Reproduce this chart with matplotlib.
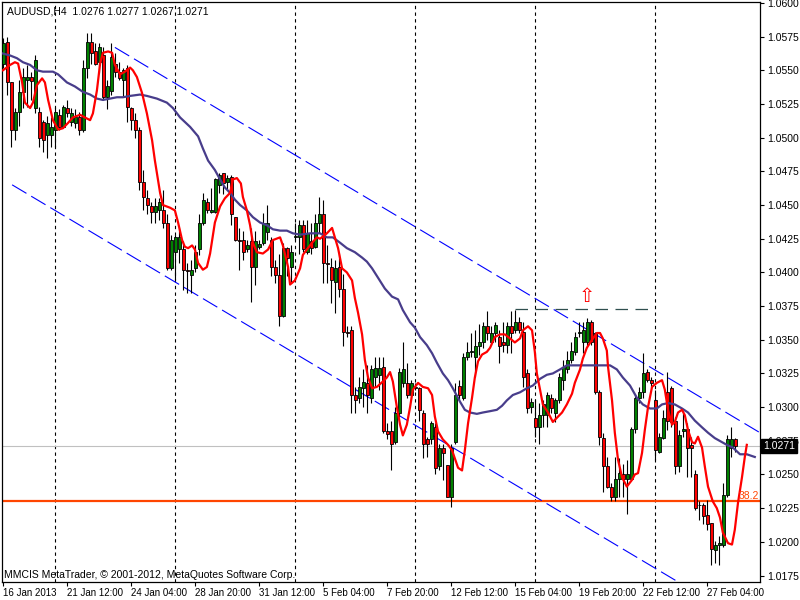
import numpy as np
import matplotlib
matplotlib.use("Agg")
import matplotlib.pyplot as plt
import matplotlib.transforms as mtransforms

plt.rcParams['font.family'] = ['Liberation Sans', 'DejaVu Sans']

# AUDUSD H4 candles, one row per bar: open, high, low, close
candles = [
    (1.0555, 1.0574, 1.0552, 1.0570), (1.0571, 1.0575, 1.0532, 1.0541), (1.0541, 1.0541, 1.0493, 1.0506),
    (1.0506, 1.0522, 1.0498, 1.0519), (1.0519, 1.0543, 1.0509, 1.0534), (1.0534, 1.0552, 1.0522, 1.0545),
    (1.0543, 1.0554, 1.0523, 1.0545), (1.0545, 1.0549, 1.0528, 1.0542), (1.0522, 1.0561, 1.0518, 1.0558),
    (1.0519, 1.0523, 1.0493, 1.0500), (1.0512, 1.0513, 1.0489, 1.0498), (1.0502, 1.0516, 1.0485, 1.0511),
    (1.0502, 1.0515, 1.0493, 1.0508), (1.0506, 1.0523, 1.0493, 1.0519), (1.0517, 1.0521, 1.0506, 1.0508),
    (1.0508, 1.0524, 1.0507, 1.0523), (1.0522, 1.0528, 1.0515, 1.0518), (1.0512, 1.0522, 1.0509, 1.0518),
    (1.0511, 1.0521, 1.0507, 1.0515), (1.0515, 1.0519, 1.0502, 1.0506), (1.0506, 1.0558, 1.0504, 1.0552),
    (1.0552, 1.0578, 1.0544, 1.0571), (1.0571, 1.0578, 1.0555, 1.0563), (1.0564, 1.0570, 1.0554, 1.0555),
    (1.0556, 1.0570, 1.0548, 1.0567), (1.0561, 1.0567, 1.0528, 1.0530), (1.0530, 1.0543, 1.0521, 1.0538),
    (1.0535, 1.0570, 1.0532, 1.0560), (1.0555, 1.0563, 1.0545, 1.0549), (1.0549, 1.0556, 1.0543, 1.0544),
    (1.0543, 1.0552, 1.0530, 1.0550), (1.0552, 1.0554, 1.0512, 1.0523), (1.0522, 1.0523, 1.0506, 1.0513),
    (1.0513, 1.0518, 1.0500, 1.0506), (1.0506, 1.0508, 1.0461, 1.0467), (1.0467, 1.0476, 1.0446, 1.0456),
    (1.0455, 1.0461, 1.0443, 1.0450), (1.0449, 1.0452, 1.0437, 1.0445), (1.0445, 1.0455, 1.0437, 1.0449),
    (1.0446, 1.0455, 1.0439, 1.0452), (1.0446, 1.0461, 1.0433, 1.0437), (1.0437, 1.0443, 1.0402, 1.0403),
    (1.0403, 1.0428, 1.0402, 1.0424), (1.0415, 1.0428, 1.0394, 1.0426), (1.0417, 1.0433, 1.0407, 1.0426),
    (1.0417, 1.0423, 1.0387, 1.0402), (1.0402, 1.0407, 1.0385, 1.0401), (1.0398, 1.0409, 1.0385, 1.0402),
    (1.0403, 1.0420, 1.0400, 1.0415), (1.0417, 1.0443, 1.0413, 1.0437), (1.0437, 1.0459, 1.0435, 1.0454),
    (1.0452, 1.0455, 1.0444, 1.0446), (1.0445, 1.0463, 1.0444, 1.0446), (1.0445, 1.0470, 1.0444, 1.0469),
    (1.0465, 1.0474, 1.0459, 1.0472), (1.0474, 1.0474, 1.0458, 1.0466), (1.0467, 1.0472, 1.0461, 1.0470),
    (1.0471, 1.0472, 1.0435, 1.0443), (1.0441, 1.0441, 1.0423, 1.0424), (1.0424, 1.0433, 1.0402, 1.0423),
    (1.0424, 1.0431, 1.0409, 1.0415), (1.0417, 1.0424, 1.0415, 1.0420), (1.0423, 1.0433, 1.0378, 1.0404),
    (1.0404, 1.0431, 1.0391, 1.0423), (1.0419, 1.0424, 1.0417, 1.0421), (1.0422, 1.0444, 1.0420, 1.0437),
    (1.0430, 1.0450, 1.0424, 1.0437), (1.0424, 1.0426, 1.0397, 1.0404), (1.0404, 1.0409, 1.0392, 1.0398),
    (1.0398, 1.0414, 1.0360, 1.0368), (1.0368, 1.0422, 1.0367, 1.0418), (1.0418, 1.0419, 1.0397, 1.0411),
    (1.0404, 1.0420, 1.0393, 1.0415), (1.0426, 1.0437, 1.0424, 1.0427), (1.0426, 1.0439, 1.0414, 1.0435),
    (1.0435, 1.0439, 1.0415, 1.0417), (1.0415, 1.0439, 1.0414, 1.0429), (1.0423, 1.0437, 1.0414, 1.0418),
    (1.0419, 1.0443, 1.0418, 1.0437), (1.0437, 1.0456, 1.0429, 1.0443), (1.0443, 1.0454, 1.0392, 1.0407),
    (1.0407, 1.0420, 1.0392, 1.0406), (1.0404, 1.0411, 1.0377, 1.0394), (1.0393, 1.0409, 1.0370, 1.0403),
    (1.0404, 1.0414, 1.0382, 1.0388), (1.0388, 1.0399, 1.0345, 1.0356), (1.0356, 1.0360, 1.0352, 1.0355),
    (1.0357, 1.0360, 1.0296, 1.0309), (1.0309, 1.0315, 1.0296, 1.0305), (1.0307, 1.0322, 1.0303, 1.0315),
    (1.0314, 1.0328, 1.0300, 1.0319), (1.0318, 1.0331, 1.0296, 1.0309), (1.0307, 1.0331, 1.0303, 1.0328),
    (1.0322, 1.0337, 1.0315, 1.0329), (1.0324, 1.0337, 1.0313, 1.0329), (1.0330, 1.0337, 1.0281, 1.0282),
    (1.0282, 1.0288, 1.0276, 1.0280), (1.0282, 1.0290, 1.0253, 1.0273), (1.0274, 1.0300, 1.0273, 1.0296),
    (1.0296, 1.0329, 1.0293, 1.0326), (1.0318, 1.0348, 1.0315, 1.0328), (1.0318, 1.0333, 1.0307, 1.0309),
    (1.0309, 1.0320, 1.0307, 1.0318), (1.0315, 1.0318, 1.0313, 1.0314), (1.0314, 1.0315, 1.0290, 1.0298),
    (1.0296, 1.0298, 1.0262, 1.0273), (1.0276, 1.0278, 1.0263, 1.0273), (1.0276, 1.0290, 1.0273, 1.0288),
    (1.0285, 1.0288, 1.0250, 1.0255), (1.0256, 1.0273, 1.0253, 1.0270), (1.0270, 1.0273, 1.0246, 1.0266),
    (1.0257, 1.0257, 1.0233, 1.0233), (1.0233, 1.0273, 1.0226, 1.0270), (1.0274, 1.0318, 1.0273, 1.0309),
    (1.0316, 1.0320, 1.0305, 1.0309), (1.0307, 1.0340, 1.0305, 1.0337), (1.0337, 1.0348, 1.0335, 1.0341),
    (1.0341, 1.0355, 1.0337, 1.0342), (1.0337, 1.0357, 1.0322, 1.0345), (1.0345, 1.0362, 1.0339, 1.0348),
    (1.0348, 1.0363, 1.0344, 1.0360), (1.0360, 1.0371, 1.0350, 1.0355), (1.0348, 1.0360, 1.0346, 1.0355),
    (1.0355, 1.0363, 1.0348, 1.0361), (1.0352, 1.0357, 1.0333, 1.0345), (1.0348, 1.0363, 1.0341, 1.0346),
    (1.0346, 1.0363, 1.0340, 1.0360), (1.0360, 1.0371, 1.0340, 1.0355), (1.0357, 1.0372, 1.0355, 1.0363),
    (1.0363, 1.0367, 1.0355, 1.0357), (1.0356, 1.0363, 1.0315, 1.0322), (1.0325, 1.0328, 1.0296, 1.0299),
    (1.0300, 1.0307, 1.0296, 1.0304), (1.0292, 1.0305, 1.0278, 1.0285), (1.0285, 1.0303, 1.0273, 1.0294),
    (1.0294, 1.0305, 1.0285, 1.0302), (1.0294, 1.0311, 1.0285, 1.0309), (1.0307, 1.0310, 1.0296, 1.0299),
    (1.0296, 1.0307, 1.0289, 1.0305), (1.0305, 1.0325, 1.0303, 1.0322), (1.0320, 1.0335, 1.0313, 1.0330),
    (1.0328, 1.0342, 1.0325, 1.0335), (1.0335, 1.0348, 1.0333, 1.0342), (1.0341, 1.0356, 1.0339, 1.0352),
    (1.0355, 1.0363, 1.0352, 1.0356), (1.0348, 1.0363, 1.0340, 1.0357), (1.0348, 1.0366, 1.0345, 1.0363),
    (1.0363, 1.0365, 1.0346, 1.0348), (1.0355, 1.0356, 1.0310, 1.0311), (1.0311, 1.0313, 1.0272, 1.0278),
    (1.0277, 1.0281, 1.0237, 1.0256), (1.0256, 1.0263, 1.0240, 1.0241), (1.0241, 1.0244, 1.0230, 1.0233),
    (1.0233, 1.0263, 1.0230, 1.0247), (1.0247, 1.0262, 1.0233, 1.0251), (1.0250, 1.0258, 1.0233, 1.0247),
    (1.0247, 1.0261, 1.0221, 1.0250), (1.0247, 1.0285, 1.0246, 1.0284), (1.0284, 1.0310, 1.0281, 1.0307),
    (1.0307, 1.0315, 1.0303, 1.0311), (1.0311, 1.0340, 1.0307, 1.0325), (1.0326, 1.0328, 1.0319, 1.0320),
    (1.0320, 1.0322, 1.0315, 1.0318), (1.0305, 1.0313, 1.0261, 1.0268), (1.0267, 1.0281, 1.0266, 1.0278),
    (1.0277, 1.0298, 1.0276, 1.0292), (1.0311, 1.0326, 1.0283, 1.0290), (1.0314, 1.0316, 1.0285, 1.0289),
    (1.0290, 1.0293, 1.0250, 1.0256), (1.0256, 1.0283, 1.0252, 1.0279), (1.0282, 1.0296, 1.0278, 1.0284),
    (1.0284, 1.0288, 1.0248, 1.0270), (1.0272, 1.0278, 1.0248, 1.0270), (1.0250, 1.0253, 1.0224, 1.0225),
    (1.0227, 1.0230, 1.0216, 1.0227), (1.0227, 1.0229, 1.0213, 1.0219), (1.0220, 1.0231, 1.0209, 1.0213),
    (1.0214, 1.0214, 1.0183, 1.0195), (1.0194, 1.0201, 1.0184, 1.0198), (1.0198, 1.0204, 1.0183, 1.0199),
    (1.0198, 1.0244, 1.0196, 1.0235), (1.0235, 1.0279, 1.0233, 1.0276), (1.0270, 1.0285, 1.0263, 1.0276),
    (1.0276, 1.0277, 1.0267, 1.0271),
]

# fast moving average (red): bar position, price
red_bars = [-0.1, 1.7, 2.9, 3.7, 4.7, 5.4, 6.7, 7.4, 8.4, 9.7, 10.4, 11.2, 12.4, 13.7, 14.9, 16.2, 17.4, 19.2,
            20.4, 21.7, 22.4, 23.4, 24.2, 24.9, 26.2, 27.2, 27.9, 29.2, 30.4, 31.7, 32.4, 33.4, 34.7, 35.9, 37.2,
            37.9, 39.2, 39.9, 41.7, 42.9, 43.7, 44.7, 45.4, 46.2, 47.2, 47.9, 48.7, 49.9, 50.9, 51.7, 52.9, 54.2,
            55.4, 56.7, 57.4, 58.4, 59.4, 59.9, 60.9, 61.7, 62.4, 63.4, 64.9, 66.2, 67.4, 69.2, 69.9, 71.2, 71.7,
            72.9, 74.2, 74.9, 75.9, 77.2, 78.4, 79.2, 80.9, 82.2, 82.9, 83.7, 84.7, 85.9, 87.2, 87.9, 88.7, 89.7,
            90.4, 91.2, 92.2, 93.4, 94.9, 95.9, 96.7, 97.4, 98.4, 99.2, 99.9, 100.9, 101.7, 102.4, 103.7, 104.9,
            106.2, 107.2, 107.9, 108.7, 109.9, 111.2, 112.2, 112.9, 113.7, 114.7, 115.4, 116.2, 117.2, 117.9,
            118.7, 119.7, 120.9, 121.7, 122.9, 124.2, 125.4, 126.7, 127.9, 129.2, 129.9, 131.2, 132.2, 132.9,
            133.4, 134.2, 134.9, 136.2, 137.4, 138.4, 139.7, 140.9, 142.2, 142.9, 144.2, 144.9, 145.9, 147.2,
            148.4, 149.2, 149.9, 150.9, 151.2, 152.2, 152.9, 153.7, 154.7, 155.9, 157.2, 157.9, 158.7, 159.7,
            160.4, 161.2, 162.2, 163.4, 164.7, 165.4, 166.2, 167.2, 167.9, 168.7, 169.7, 170.4, 171.2, 172.2,
            172.9, 173.7, 174.7, 175.4, 176.2, 177.4, 178.4, 179.2, 179.9, 181.2, 182.2, 182.9, 183.7, 184.7,
            185.4, 185.9]
red_vals = [1.0550, 1.0554, 1.0556, 1.0555, 1.0541, 1.0526, 1.0522, 1.0526, 1.0539, 1.0544, 1.0541, 1.0528,
            1.0513, 1.0506, 1.0507, 1.0511, 1.0515, 1.0517, 1.0515, 1.0513, 1.0518, 1.0535, 1.0555, 1.0563,
            1.0564, 1.0563, 1.0554, 1.0547, 1.0549, 1.0552, 1.0550, 1.0545, 1.0533, 1.0518, 1.0498, 1.0483,
            1.0459, 1.0450, 1.0448, 1.0446, 1.0437, 1.0424, 1.0419, 1.0418, 1.0420, 1.0417, 1.0407, 1.0402,
            1.0404, 1.0414, 1.0437, 1.0449, 1.0455, 1.0459, 1.0469, 1.0470, 1.0466, 1.0456, 1.0446, 1.0435,
            1.0422, 1.0415, 1.0414, 1.0417, 1.0424, 1.0426, 1.0420, 1.0404, 1.0391, 1.0394, 1.0403, 1.0413,
            1.0417, 1.0422, 1.0426, 1.0425, 1.0429, 1.0433, 1.0426, 1.0418, 1.0403, 1.0400, 1.0394, 1.0381,
            1.0370, 1.0354, 1.0335, 1.0322, 1.0314, 1.0315, 1.0319, 1.0322, 1.0326, 1.0319, 1.0300, 1.0287,
            1.0279, 1.0287, 1.0300, 1.0313, 1.0318, 1.0315, 1.0314, 1.0309, 1.0293, 1.0282, 1.0276, 1.0272,
            1.0268, 1.0262, 1.0255, 1.0253, 1.0268, 1.0288, 1.0307, 1.0322, 1.0334, 1.0339, 1.0341, 1.0344,
            1.0352, 1.0354, 1.0354, 1.0351, 1.0348, 1.0351, 1.0357, 1.0360, 1.0357, 1.0341, 1.0325, 1.0313,
            1.0302, 1.0296, 1.0289, 1.0292, 1.0296, 1.0302, 1.0310, 1.0318, 1.0328, 1.0336, 1.0344, 1.0350,
            1.0355, 1.0355, 1.0351, 1.0342, 1.0330, 1.0305, 1.0281, 1.0261, 1.0248, 1.0241, 1.0246, 1.0250,
            1.0251, 1.0266, 1.0283, 1.0300, 1.0315, 1.0318, 1.0320, 1.0313, 1.0298, 1.0287, 1.0289, 1.0296,
            1.0298, 1.0294, 1.0283, 1.0274, 1.0273, 1.0278, 1.0270, 1.0256, 1.0241, 1.0230, 1.0225, 1.0218,
            1.0207, 1.0199, 1.0198, 1.0209, 1.0229, 1.0248, 1.0263, 1.0272]

# slow moving average (dark slate blue)
slow_bars = [-0.8, 1.7, 3.4, 4.9, 6.7, 8.4, 9.9, 12.4, 13.7, 15.9, 17.9, 19.9, 21.7, 23.4, 24.9, 26.7, 28.4,
             29.9, 31.7, 34.2, 35.9, 38.4, 40.9, 42.4, 44.2, 46.7, 48.7, 49.9, 51.2, 52.9, 54.2, 55.4, 56.7,
             57.9, 59.2, 60.9, 62.4, 64.2, 65.9, 67.4, 69.2, 70.9, 72.4, 74.2, 76.7, 79.2, 80.9, 82.4, 84.2,
             85.9, 87.9, 89.7, 90.9, 92.2, 93.7, 95.4, 97.2, 98.7, 99.9, 101.7, 102.9, 104.2, 105.9, 107.2,
             108.4, 109.9, 111.2, 112.4, 114.2, 115.4, 116.7, 118.4, 119.9, 121.7, 123.4, 124.7, 125.9, 127.4,
             129.2, 130.9, 132.4, 134.2, 135.9, 137.4, 139.2, 140.9, 144.9, 149.2, 151.7, 153.4, 154.9, 156.7,
             158.4, 159.9, 161.7, 163.4, 164.7, 166.2, 167.9, 169.7, 171.2, 172.9, 174.7, 176.2, 177.9, 179.7,
             180.9, 182.4, 184.2, 185.9, 187.9]
slow_vals = [1.0563, 1.0561, 1.0559, 1.0556, 1.0554, 1.0550, 1.0549, 1.0549, 1.0547, 1.0541, 1.0538, 1.0534,
             1.0532, 1.0529, 1.0528, 1.0529, 1.0530, 1.0530, 1.0531, 1.0532, 1.0531, 1.0529, 1.0526, 1.0522,
             1.0515, 1.0508, 1.0501, 1.0492, 1.0483, 1.0476, 1.0469, 1.0463, 1.0459, 1.0454, 1.0450, 1.0446,
             1.0441, 1.0437, 1.0435, 1.0432, 1.0431, 1.0431, 1.0429, 1.0428, 1.0429, 1.0429, 1.0426, 1.0426,
             1.0422, 1.0418, 1.0415, 1.0411, 1.0408, 1.0403, 1.0396, 1.0388, 1.0382, 1.0380, 1.0372, 1.0363,
             1.0359, 1.0352, 1.0346, 1.0340, 1.0333, 1.0325, 1.0320, 1.0314, 1.0304, 1.0298, 1.0296, 1.0295,
             1.0296, 1.0297, 1.0298, 1.0301, 1.0305, 1.0309, 1.0311, 1.0314, 1.0316, 1.0321, 1.0324, 1.0325,
             1.0328, 1.0331, 1.0331, 1.0331, 1.0331, 1.0328, 1.0322, 1.0316, 1.0307, 1.0302, 1.0299, 1.0299,
             1.0302, 1.0303, 1.0302, 1.0299, 1.0296, 1.0290, 1.0285, 1.0281, 1.0277, 1.0274, 1.0272, 1.0270,
             1.0265, 1.0265, 1.0263]

# price channel anchors (bar, price)
upper_channel = [(27.9, 1.0567), (189.2, 1.0281)]
lower_channel = [(2.2, 1.0465), (170.0, 1.0168)]
fib_level = 1.0230
fib_label = "38.2"
bid_price = 1.0271
resistance = 1.0373
resistance_span = (127.9, 162.2)
arrow_bar, arrow_price = 146, 1.0389

week_lines = [13, 43, 73, 103, 133, 163]
date_ticks = [0, 16, 32, 48, 64, 80, 96, 112, 128, 144, 160, 176]
date_labels = ["16 Jan 2013", "21 Jan 12:00", "24 Jan 04:00", "28 Jan 20:00", "31 Jan 12:00",
               "5 Feb 04:00", "7 Feb 20:00", "12 Feb 12:00", "15 Feb 04:00", "19 Feb 20:00",
               "22 Feb 12:00", "27 Feb 04:00"]

title = "AUDUSD,H4  1.0276 1.0277 1.0267 1.0271"
copyright_txt = "MMCIS MetaTrader, \u00a9 2001-2012, MetaQuotes Software Corp."

ohlc = np.array(candles)
o, h, l, c = ohlc[:, 0], ohlc[:, 1], ohlc[:, 2], ohlc[:, 3]
bars = np.arange(len(ohlc))

fig = plt.figure(figsize=(8, 6), dpi=100)
ax = fig.add_axes([2 / 800, 18 / 600, 758 / 800, 580 / 600])
ax.set_xlim(-0.33, 189.2)
ax.set_ylim(1.01702, 1.06007)

for b in week_lines:
    ax.axvline(b, color="black", lw=0.8, ls=(0, (3, 3)), zorder=1)

ax.axhline(bid_price, color="#C0C0C0", lw=0.8, zorder=1)
ax.axhline(fib_level, color="#FF4500", lw=1.6, zorder=2)
ax.text(189.0, fib_level + 0.00005, fib_label, color="#FF4500", fontsize=7.5,
        ha="right", va="bottom", zorder=6)

ax.plot(resistance_span, [resistance, resistance], color="#2F4F4F", lw=0.9,
        ls=(0, (10, 6)), zorder=2)
ax.text(arrow_bar, arrow_price, "\u21e7", color="red", fontsize=14, ha="center",
        va="top", zorder=6, family="DejaVu Sans")

for chan in (upper_channel, lower_channel):
    xs, ys = zip(*chan)
    ax.plot(xs, ys, color="#0000FF", lw=0.8, ls=(0, (15, 5)), zorder=2)

# candles
ax.vlines(bars, l, h, color="black", lw=0.8, zorder=3)
up = c >= o
body_lo = np.minimum(o, c)
body_h = np.maximum(np.abs(c - o), 0.00002)
ax.bar(bars[up], body_h[up], bottom=body_lo[up], width=0.7, color="#008000",
       edgecolor="black", lw=0.6, zorder=4)
ax.bar(bars[~up], body_h[~up], bottom=body_lo[~up], width=0.7, color="#FF0000",
       edgecolor="black", lw=0.6, zorder=4)

ax.plot(slow_bars, slow_vals, color="#483D8B", lw=1.6, zorder=5)
ax.plot(red_bars, red_vals, color="#FF0000", lw=1.6, zorder=5)

# axes styling like the terminal
for sp in ax.spines.values():
    sp.set_color("black")
    sp.set_linewidth(0.9)
ax.yaxis.tick_right()
ax.set_yticks(np.arange(1.0175, 1.06001, 0.0025))
ax.yaxis.set_major_formatter(plt.FormatStrFormatter("%.4f"))
ax.tick_params(axis="y", length=3, width=0.8, pad=2, labelsize=7.5, direction="out")
ax.set_xticks(date_ticks)
ax.set_xticklabels(date_labels)
for lbl in ax.get_xticklabels():
    lbl.set_ha("left")
ax.tick_params(axis="x", length=3, width=0.8, pad=1.5, labelsize=7, direction="out")

trans = mtransforms.blended_transform_factory(ax.transAxes, ax.transData)
ax.text(1.004, bid_price, "1.0271", transform=trans, color="white", fontsize=7.5,
        ha="left", va="center", zorder=7, clip_on=False,
        bbox=dict(boxstyle="square,pad=0.2", fc="black", ec="black"))

ax.text(0.006, 0.993, title, transform=ax.transAxes, fontsize=7.5, ha="left", va="top")
ax.text(0.003, 0.004, copyright_txt, transform=ax.transAxes, fontsize=7.5, ha="left",
        va="bottom")

fig.savefig("out.png", dpi=100, facecolor="white")
